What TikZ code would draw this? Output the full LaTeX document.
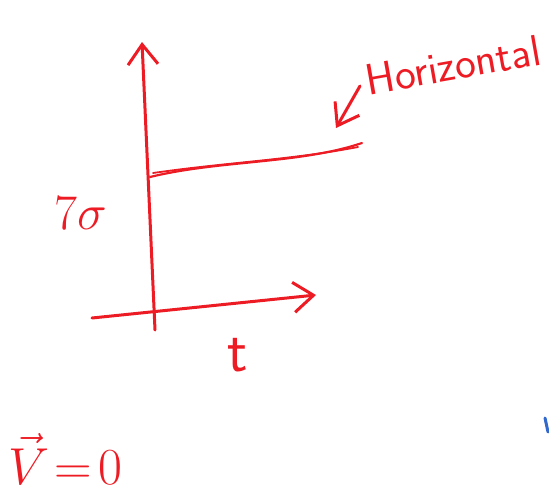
\RequirePackage{fix-cm}
\documentclass[tikz,border=0pt]{standalone}
\usepackage{amsmath}
\usepackage{tikz}
\usetikzlibrary{arrows.meta,positioning,calc}
\definecolor{pen}{RGB}{237,28,36}
\definecolor{bluepen}{RGB}{50,105,205}

\begin{document}
\begin{tikzpicture}[x=1pt, y=-1pt,
    stroke/.style={draw=pen, line width=3pt, line cap=round, line join=round},
    penarrow/.style={stroke, -{Straight Barb[length=20pt, width=30pt]}},
    handtext/.style={text=pen, font=\sffamily, inner sep=0pt}
]
    \useasboundingbox (0,0) rectangle (549,493);

    % axes
    \coordinate (origin) at (155,330);
    \coordinate (ytop) at (142,42);
    \coordinate (xleft) at (92,318);
    \coordinate (xright) at (316,295);
    \draw[penarrow] (origin) -- (ytop);
    \draw[penarrow] (xleft) -- (xright);

    % constant position line
    \coordinate (lstart) at (150,177);
    \coordinate (lend) at (362,143);
    \draw[stroke, line width=2.2pt] (lstart) .. controls (220,160) and (300,164) .. (lend);
    \draw[stroke, line width=1.8pt] (153,173) .. controls (230,162) and (290,160) .. (358,147);

    % labels
    \node[handtext, font=\sffamily\fontsize{44}{48}\selectfont, rotate=10] (hlabel) at (453,65) {Horizontal};
    \coordinate (htail) at (360,86);
    \coordinate (htip) at (336,128);
    \draw[stroke, -{Straight Barb[length=20pt, width=28pt]}] (htail) -- (htip);

    \node[handtext, font=\sffamily\fontsize{50}{56}\selectfont] (xzero) at (81,213) {$7\sigma$};
    \node[handtext, font=\sffamily\fontsize{60}{66}\selectfont] (tlabel) at (238,355) {t};
    \node[handtext, font=\fontsize{52}{58}\selectfont, anchor=base west] (vzero) at (8,484) {$\vec{V}\!=\!0$};

    % stray stroke
    \draw[draw=bluepen, line width=3pt, line cap=round] (545,418) -- (548,432);
\end{tikzpicture}
\end{document}
